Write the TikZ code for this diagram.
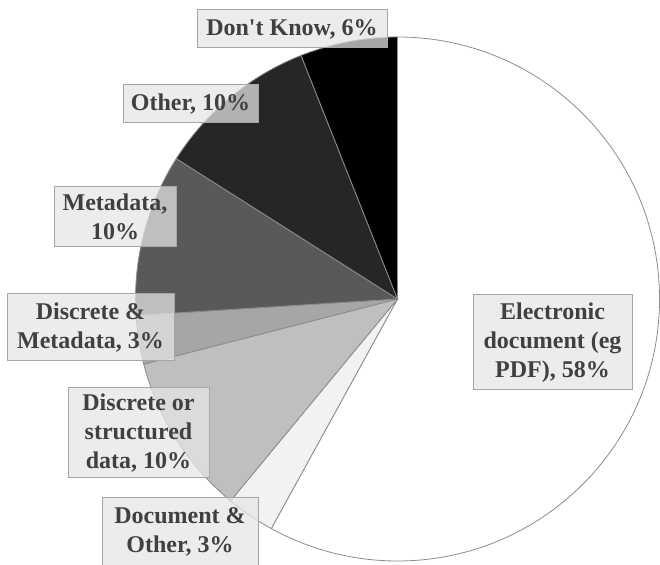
\documentclass[tikz,border=0pt]{standalone}
\usepackage{fontspec}
\setmainfont{Liberation Serif}[Ligatures=TeXOff]
\definecolor{lblfill}{HTML}{E6E6E6}
\definecolor{lblborder}{HTML}{A6A6A6}
\definecolor{lbltext}{HTML}{404040}
\definecolor{sep}{HTML}{8C8C8C}
\definecolor{cdoc}{HTML}{F2F2F2}
\definecolor{cdisc}{HTML}{BFBFBF}
\definecolor{cdm}{HTML}{A6A6A6}
\definecolor{cmeta}{HTML}{595959}
\definecolor{cother}{HTML}{262626}
\begin{document}
\begin{tikzpicture}[x=1pt,y=1pt,
  lbl/.style={draw=lblborder, line width=1pt, fill=lblfill, fill opacity=0.73,
    draw opacity=1, text opacity=1, text=lbltext,
    font=\bfseries\fontsize{24}{29}\selectfont, align=center, inner sep=0pt},
  slice/.style={draw=sep, line width=0.8pt}]
\useasboundingbox (0,0) rectangle (660,564);
\fill[white] (0,0) rectangle (660,564);
\coordinate (c) at (397.5,265);
% slices (clockwise from 12 o'clock)
\filldraw[slice, fill=white] (c) -- ++(90:262) arc[start angle=90, end angle=-118.8, radius=262] -- cycle;
\filldraw[slice, fill=cdoc] (c) -- ++(-118.8:262) arc[start angle=-118.8, end angle=-129.6, radius=262] -- cycle;
\filldraw[slice, fill=cdisc] (c) -- ++(-129.6:262) arc[start angle=-129.6, end angle=-165.6, radius=262] -- cycle;
\filldraw[slice, fill=cdm] (c) -- ++(-165.6:262) arc[start angle=-165.6, end angle=-176.4, radius=262] -- cycle;
\filldraw[slice, fill=cmeta] (c) -- ++(-176.4:262) arc[start angle=-176.4, end angle=-212.4, radius=262] -- cycle;
\filldraw[slice, fill=cother] (c) -- ++(-212.4:262) arc[start angle=-212.4, end angle=-248.4, radius=262] -- cycle;
\filldraw[slice, fill=black] (c) -- ++(-248.4:262) arc[start angle=-248.4, end angle=-270, radius=262] -- cycle;
% labels
\node[lbl, minimum width=190, minimum height=38] (dk) at (292,535) {Don't Know, 6\%};
\node[lbl, minimum width=135, minimum height=38] (oth) at (190.5,460) {Other, 10\%};
\node[lbl, minimum width=122, minimum height=60] (meta) at (115,347) {Metadata,\\10\%};
\node[lbl, minimum width=167, minimum height=67] (dm) at (90.5,236.5) {Discrete \&\\Metadata, 3\%};
\node[lbl, minimum width=141, minimum height=90] (disc) at (138.5,131) {Discrete or\\structured\\data, 10\%};
\node[lbl, minimum width=156, minimum height=67] (doc) at (180,32.5) {Document \&\\Other, 3\%};
\node[lbl, minimum width=159, minimum height=95] (el) at (552.5,221.5) {Electronic\\document (eg\\PDF), 58\%};
\end{tikzpicture}
\end{document}
